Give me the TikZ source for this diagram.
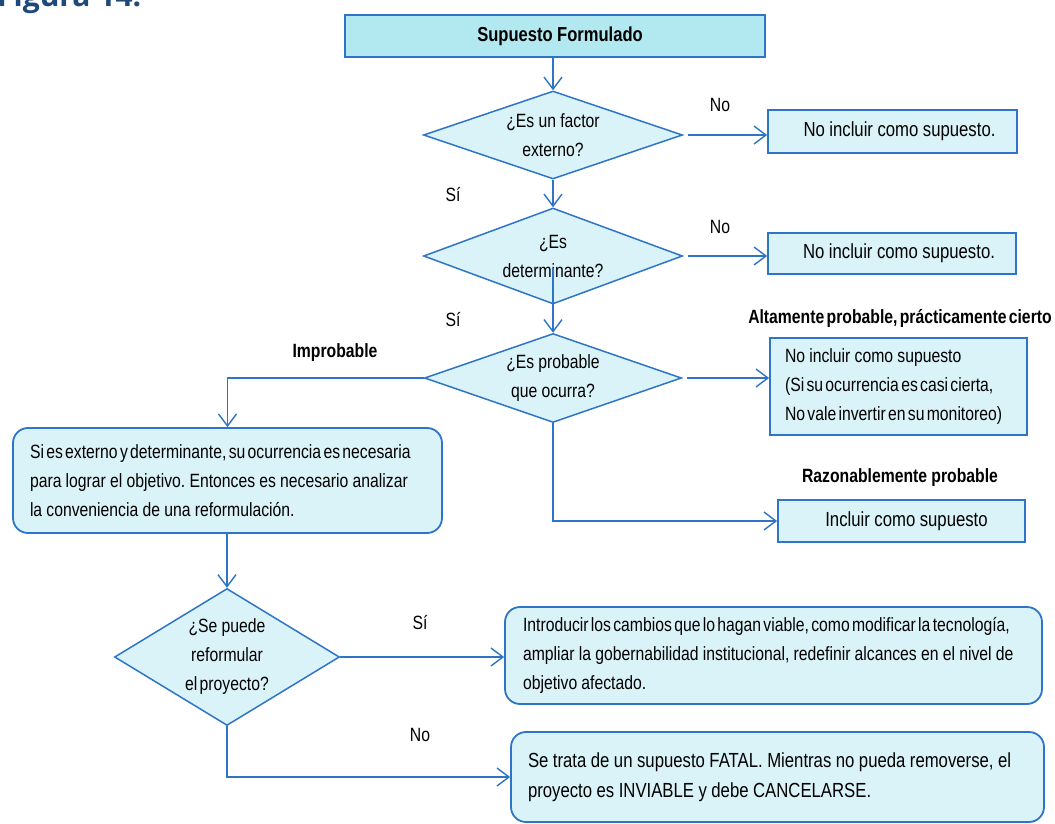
\documentclass[tikz,border=0pt]{standalone}
\usepackage{fontspec}
\setmainfont{Liberation Sans}[FakeStretch=0.82]
\newfontfamily\titlefont{Open Sans}
\usetikzlibrary{shapes.geometric,arrows.meta,calc}

\definecolor{flowblue}{RGB}{46,117,199}
\definecolor{palefill}{RGB}{218,243,248}
\definecolor{topfill}{RGB}{178,233,240}
\definecolor{titleblue}{RGB}{31,73,125}

% body fonts: narrow word spaces to suit the condensed glyphs
\newcommand\bodyfont{\fontsize{19.2}{29}\selectfont\spaceskip=0.22em\relax\frenchspacing}
\newcommand\largebodyfont{\fontsize{20.4}{30}\selectfont\spaceskip=0.22em\relax\frenchspacing}
\newcommand\boldbodyfont{\fontsize{19.2}{29}\selectfont\bfseries\spaceskip=0.22em\relax\frenchspacing}
\newcommand\headfont{\fontsize{20.2}{29}\selectfont\bfseries\spaceskip=0.22em\relax\frenchspacing}

% one line of text that must not be broken
\newcommand\fitline[1]{\mbox{\spaceskip=0.22em\xspaceskip=0.22em\relax #1}}
% a line set with very narrow word spaces
\newcommand\packedline[1]{\mbox{\spaceskip=0.12em\xspaceskip=0.12em\relax #1}}

\tikzset{
  every node/.style={font=\bodyfont, text=black},
  decision/.style={diamond, draw=flowblue, fill=palefill, line width=1.5pt,
    inner sep=0pt, align=center},
  plainbox/.style={rectangle, draw=flowblue, fill=palefill, line width=1.8pt,
    inner sep=0pt},
  roundbox/.style={plainbox, rounded corners=15pt},
  flow/.style={draw=flowblue, line width=1.4pt,
    -{Straight Barb[length=12pt,width=18pt]}},
  tag/.style={inner sep=0pt},
  tagbold/.style={inner sep=0pt, font=\boldbodyfont},
}

\begin{document}
\begin{tikzpicture}[x=1pt,y=-1pt]
\useasboundingbox (0,0) rectangle (1055,824);
\fill[white] (0,0) rectangle (1055,824);
\clip (0,0) rectangle (1055,824);

% heading, partly above the page
\node[anchor=base west, inner sep=0pt, text=titleblue,
      font=\titlefont\bfseries\fontsize{30}{30}\selectfont] (title) at (-3,7) {Figura 14.};

% start
\node[plainbox, fill=topfill, minimum width=420pt, minimum height=42pt,
      font=\headfont] (b0) at (555,36) {\hspace*{10pt}Supuesto Formulado};

% decisions
\node[decision, shape aspect=2.9, minimum width=259pt, minimum height=88pt] (d1) at (553,135)
  {¿Es un factor\\externo?};
\node[decision, shape aspect=2.7, minimum width=259pt, minimum height=96pt] (d2) at (553,256)
  {¿Es\\determinante?};
\node[decision, shape aspect=2.9, minimum width=257pt, minimum height=89pt] (d3) at (553,378)
  {¿Es probable\\que ocurra?};
\node[decision, shape aspect=1.64, minimum width=225pt, minimum height=137pt] (d4) at (227,657)
  {¿Se puede\\reformular\\\packedline{el proyecto?}};

% outcomes on the right
\node[plainbox, minimum width=249pt, minimum height=43pt, font=\largebodyfont] (n1) at (892.5,131.5)
  {\hspace*{14pt}No incluir como supuesto.};
\node[plainbox, minimum width=248pt, minimum height=41pt, font=\largebodyfont] (n2) at (892,253.5)
  {\hspace*{14pt}No incluir como supuesto.};
\node[plainbox, minimum height=97pt, inner xsep=15pt, text width=227pt, align=left] (n3) at (898.5,386.5)
  {\fitline{No incluir como supuesto}\\
   \packedline{(Si su ocurrencia es casi cierta,}\\
   \packedline{No vale invertir en su monitoreo)}};
\node[plainbox, minimum width=247pt, minimum height=42pt, font=\largebodyfont] (n4) at (901.5,521)
  {\hspace*{10pt}Incluir como supuesto};

% reformulation branch
\node[roundbox, minimum height=105pt, inner xsep=17pt, text width=395pt, align=left] (b3) at (227.5,480.5)
  {\packedline{Si es externo y determinante, su ocurrencia es necesaria}\\
   \fitline{para lograr el objetivo. Entonces es necesario analizar}\\
   \fitline{la conveniencia de una reformulación.}};
\node[roundbox, minimum height=97pt, inner xsep=18pt, text width=501pt, align=left] (b5) at (773.5,655.5)
  {\packedline{Introducir los cambios que lo hagan viable, como modificar la tecnología,}\\
   \fitline{ampliar la gobernabilidad institucional, redefinir alcances en el nivel de}\\
   \fitline{objetivo afectado.}};
\node[roundbox, minimum height=90pt, inner xsep=17pt, text width=499pt, align=left,
      font=\largebodyfont] (b6) at (777.5,777)
  {\fitline{Se trata de un supuesto FATAL. Mientras no pueda removerse, el}\\
   \fitline{proyecto es INVIABLE y debe CANCELARSE.}};

% branch labels
\node[tag] (noA) at (720,105) {No};
\node[tag] (noB) at (720,227) {No};
\node[tag] (siA) at (453,195) {Sí};
\node[tag] (siB) at (453,320) {Sí};
\node[tagbold] (impr) at (335,353) {Improbable};
\node[tagbold] (alta) at (900,318) {\packedline{Altamente probable, prácticamente cierto}};
\node[tagbold] (razo) at (900,478) {Razonablemente probable};
\node[tag] (siC) at (420,623) {Sí};
\node[tag] (noC) at (420,735) {No};

% connectors
\draw[flow] (b0.south -| d1.north) -- (d1.north);
\draw[flow] (d1.south) -- (d2.north);
\draw[flow] ([xshift=5pt]d1.east) -- (d1.east -| n1.west);
\draw[flow] ([xshift=5pt]d2.east) -- (d2.east -| n2.west);
\draw[flow] ([yshift=-12pt]d2.center) -- (d3.north);
\draw[flow] ([xshift=5pt]d3.east) -- (d3.east -| n3.west);
\draw[flow] (d3.west) -| (b3.north);
\draw[flow] (d3.south) |- (n4.west);
\draw[flow] (b3.south -| d4.north) -- (d4.north);
\draw[flow] (d4.east) -- (d4.east -| b5.west);
\draw[flow] (d4.south) |- (b6.west);
\end{tikzpicture}
\end{document}
